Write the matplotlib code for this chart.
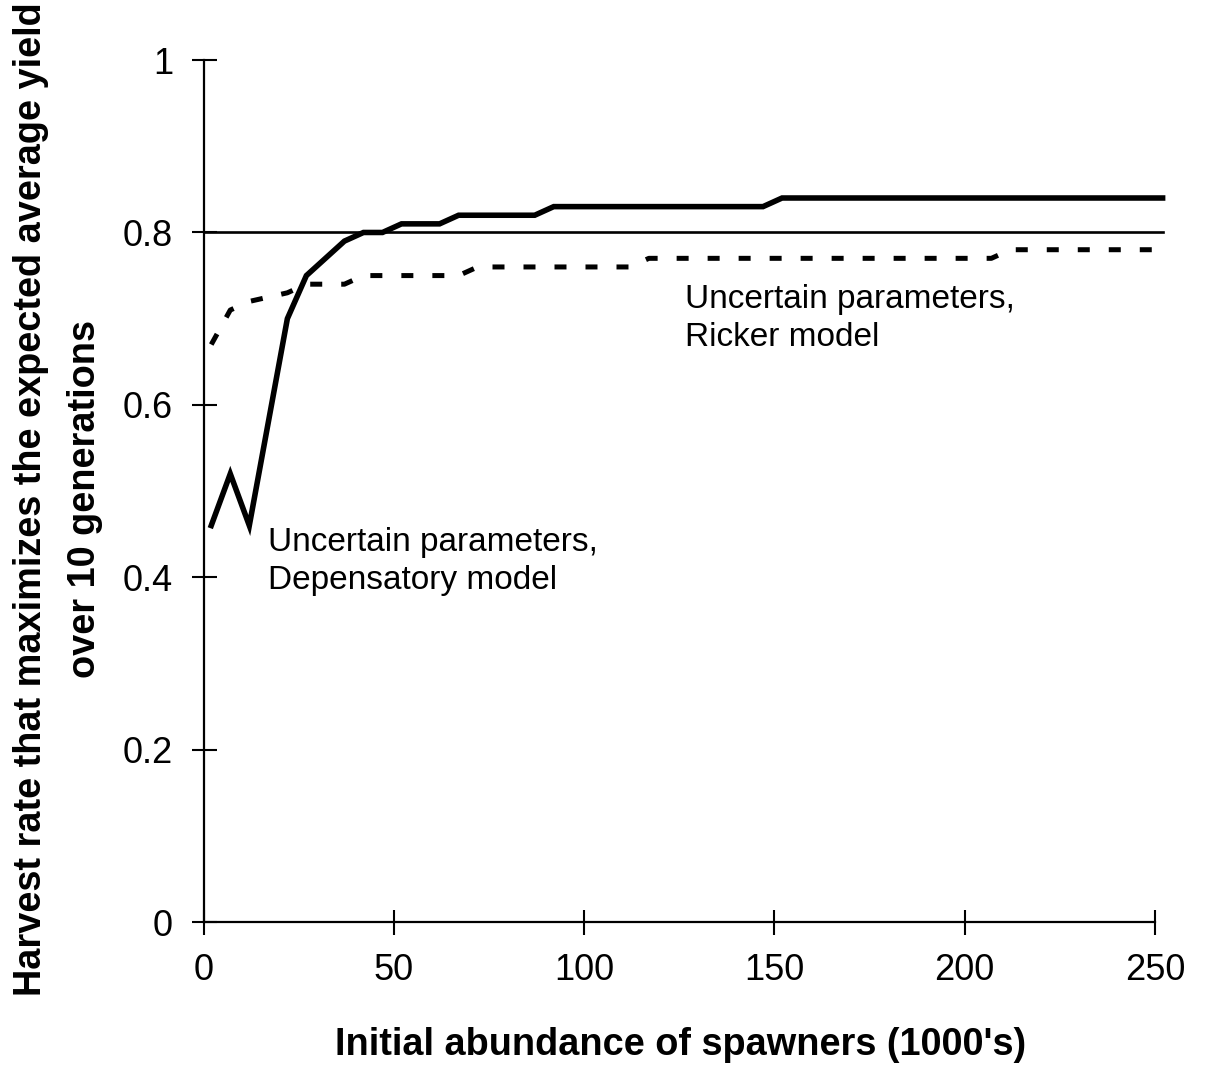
import matplotlib
matplotlib.use("Agg")
import matplotlib.pyplot as plt
import numpy as np

plt.rcParams['font.family'] = ['Liberation Sans', 'DejaVu Sans']

# initial spawners (1000's)
spawners = [2, 7, 12, 17, 22, 27, 32, 37, 42, 47, 52, 57, 62, 67, 72, 77, 82, 87,
            92, 97, 102, 107, 112, 117, 122, 127, 132, 137, 142, 147, 152, 157,
            162, 167, 172, 177, 182, 187, 192, 197, 202, 207, 212, 217, 222, 227,
            232, 237, 242, 247, 252]

# uncertain parameters, depensatory model (thick solid)
depens = [0.46, 0.52, 0.46, 0.58, 0.70, 0.75, 0.77, 0.79, 0.80, 0.80, 0.81, 0.81,
          0.81, 0.82, 0.82, 0.82, 0.82, 0.82, 0.83, 0.83, 0.83, 0.83, 0.83, 0.83,
          0.83, 0.83, 0.83, 0.83, 0.83, 0.83, 0.84, 0.84, 0.84, 0.84, 0.84, 0.84,
          0.84, 0.84, 0.84, 0.84, 0.84, 0.84, 0.84, 0.84, 0.84, 0.84, 0.84, 0.84,
          0.84, 0.84, 0.84]

# uncertain parameters, Ricker model (dashed)
ricker = [0.67, 0.71, 0.72, 0.725, 0.73, 0.74, 0.74, 0.74, 0.75, 0.75, 0.75, 0.75,
          0.75, 0.75, 0.76, 0.76, 0.76, 0.76, 0.76, 0.76, 0.76, 0.76, 0.76, 0.77,
          0.77, 0.77, 0.77, 0.77, 0.77, 0.77, 0.77, 0.77, 0.77, 0.77, 0.77, 0.77,
          0.77, 0.77, 0.77, 0.77, 0.77, 0.77, 0.78, 0.78, 0.78, 0.78, 0.78, 0.78,
          0.78, 0.78, 0.78]

# thin reference line
ref_x = [0, 252]
ref_y = [0.80, 0.80]

fig = plt.figure(figsize=(12.05, 10.73), dpi=100)
ax = fig.add_axes([0.169, 0.1407, 0.7895, 0.8033])

ax.plot(ref_x, ref_y, color='black', lw=1.9, clip_on=False)
ax.plot(spawners, depens, color='black', lw=4, solid_joinstyle='miter', clip_on=False)
ax.plot(spawners, ricker, color='black', lw=3.6, linestyle=(0, (2.4, 3.8)),
        dash_capstyle='butt', clip_on=False)

ax.set_xlim(0, 250)
ax.set_ylim(0, 1)
ax.set_xticks([0, 50, 100, 150, 200, 250])
ax.set_yticks([0, 0.2, 0.4, 0.6, 0.8, 1])
ax.set_yticklabels(['0', '0.2', '0.4', '0.6', '0.8', '1'])

ax.spines['top'].set_visible(False)
ax.spines['right'].set_visible(False)
ax.spines['left'].set_linewidth(1.6)
ax.spines['bottom'].set_linewidth(1.6)
ax.tick_params(direction='inout', length=18, width=1.5, labelsize=26)
ax.tick_params(axis='x', pad=13)
ax.tick_params(axis='y', pad=13)

ax.text(126.6, 0.740, "Uncertain parameters,\nRicker model", fontsize=24,
        va='top', ha='left', linespacing=1.3)
ax.text(16.8, 0.458, "Uncertain parameters,\nDepensatory model", fontsize=24,
        va='top', ha='left', linespacing=1.3)

fig.text(0.565, 0.026, "Initial abundance of spawners (1000's)", fontsize=27.3,
         fontweight='bold', ha='center', va='center')
fig.text(0.048, 0.535, "Harvest rate that maximizes the expected average yield\nover 10 generations",
         fontsize=27.3, fontweight='bold', rotation=90, ha='center', va='center',
         multialignment='center', linespacing=1.65)

plt.savefig("out.png", dpi=100)
